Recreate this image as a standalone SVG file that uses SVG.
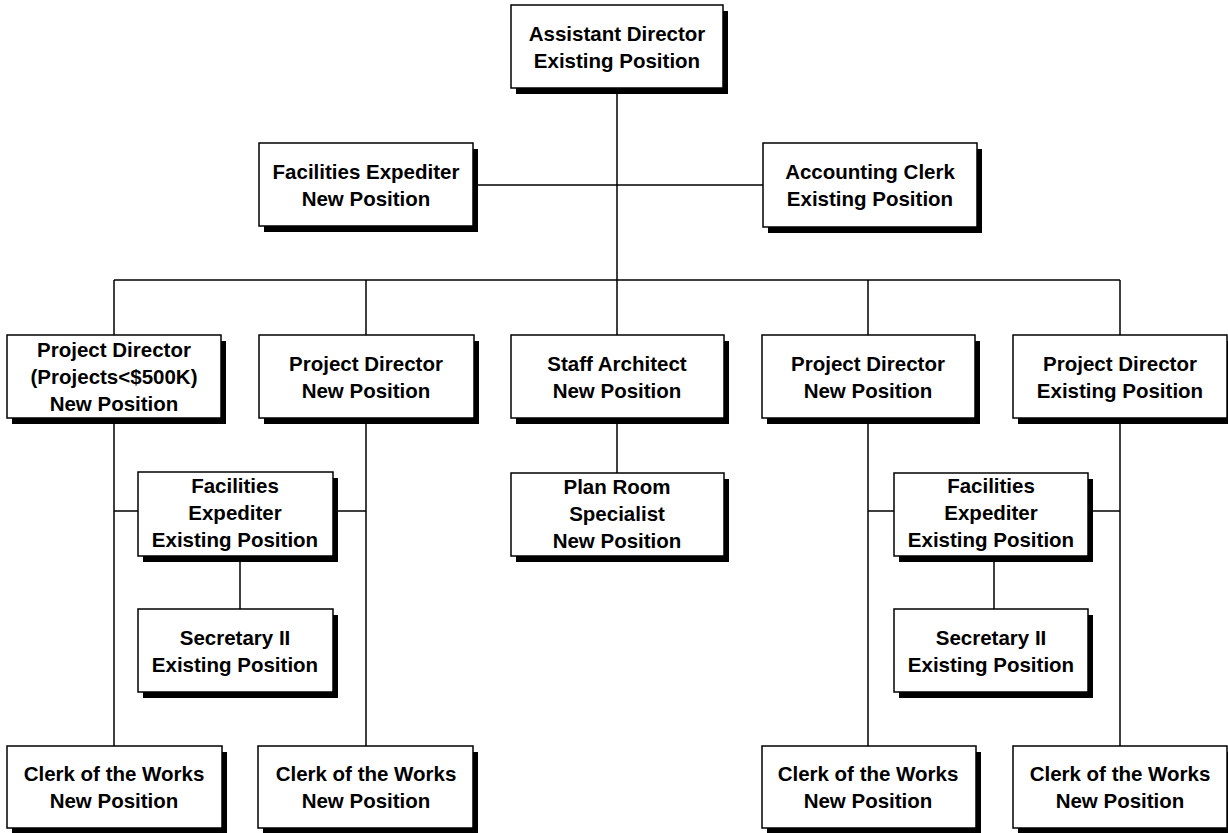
<svg xmlns="http://www.w3.org/2000/svg" width="1228" height="833" viewBox="0 0 1228 833">
<style>
.bx{fill:#fff;stroke:#000;stroke-width:1.5}
.sh{fill:#000}
.t{font-family:"Liberation Sans",Arial,sans-serif;font-weight:bold;font-size:20.5px;fill:#000;text-anchor:middle}
.c{stroke:#000;stroke-width:1.5;fill:none}
</style>
<rect width="1228" height="833" fill="#fff"/>
<g id="connectors">
<path class="c" d="M617,88V335M473,185H763M114,280H1120M114,280V335M366,280V335M868,280V335M1120,280V335"/>
<path class="c" d="M114,418V746M366,418V746M868,418V746M1120,418V746M617,418V473"/>
<path class="c" d="M114,511H138M333,511H366M868,511H894M1088,511H1120M240,556V609M994,556V609"/>
</g>
<g id="n-asst-dir"><rect class="sh" x="516" y="11" width="212" height="83"/><rect class="bx" x="511" y="5" width="212" height="83"/><text class="t" x="617" y="41">Assistant Director</text><text class="t" x="617" y="68">Existing Position</text></g>
<g id="n-fac-exp-new"><rect class="sh" x="264" y="149" width="214" height="83"/><rect class="bx" x="259" y="143" width="214" height="83"/><text class="t" x="366" y="179">Facilities Expediter</text><text class="t" x="366" y="206">New Position</text></g>
<g id="n-acct-clerk"><rect class="sh" x="768" y="149" width="214" height="84"/><rect class="bx" x="763" y="143" width="214" height="84"/><text class="t" x="870" y="179">Accounting Clerk</text><text class="t" x="870" y="206">Existing Position</text></g>
<g id="n-pd1"><rect class="sh" x="12" y="341" width="214" height="83"/><rect class="bx" x="7" y="335" width="214" height="83"/><text class="t" x="114" y="357">Project Director</text><text class="t" x="114" y="384">(Projects&lt;$500K)</text><text class="t" x="114" y="411">New Position</text></g>
<g id="n-pd2"><rect class="sh" x="264" y="341" width="215" height="83"/><rect class="bx" x="259" y="335" width="215" height="83"/><text class="t" x="366" y="371">Project Director</text><text class="t" x="366" y="398">New Position</text></g>
<g id="n-staff-arch"><rect class="sh" x="516" y="341" width="213" height="83"/><rect class="bx" x="511" y="335" width="213" height="83"/><text class="t" x="617" y="371">Staff Architect</text><text class="t" x="617" y="398">New Position</text></g>
<g id="n-pd3"><rect class="sh" x="767" y="341" width="213" height="83"/><rect class="bx" x="762" y="335" width="213" height="83"/><text class="t" x="868" y="371">Project Director</text><text class="t" x="868" y="398">New Position</text></g>
<g id="n-pd4"><rect class="sh" x="1018" y="341" width="214" height="83"/><rect class="bx" x="1013" y="335" width="214" height="83"/><text class="t" x="1120" y="371">Project Director</text><text class="t" x="1120" y="398">Existing Position</text></g>
<g id="n-plan-room"><rect class="sh" x="516" y="479" width="213" height="83"/><rect class="bx" x="511" y="473" width="213" height="83"/><text class="t" x="617" y="494">Plan Room</text><text class="t" x="617" y="521">Specialist</text><text class="t" x="617" y="548">New Position</text></g>
<g id="n-fac-exp-l"><rect class="sh" x="143" y="478" width="195" height="84"/><rect class="bx" x="138" y="472" width="195" height="84"/><text class="t" x="235" y="493">Facilities</text><text class="t" x="235" y="520">Expediter</text><text class="t" x="235" y="547">Existing Position</text></g>
<g id="n-fac-exp-r"><rect class="sh" x="899" y="479" width="194" height="83"/><rect class="bx" x="894" y="473" width="194" height="83"/><text class="t" x="991" y="493">Facilities</text><text class="t" x="991" y="520">Expediter</text><text class="t" x="991" y="547">Existing Position</text></g>
<g id="n-sec-l"><rect class="sh" x="143" y="615" width="195" height="83"/><rect class="bx" x="138" y="609" width="195" height="83"/><text class="t" x="235" y="645">Secretary II</text><text class="t" x="235" y="672">Existing Position</text></g>
<g id="n-sec-r"><rect class="sh" x="899" y="615" width="194" height="83"/><rect class="bx" x="894" y="609" width="194" height="83"/><text class="t" x="991" y="645">Secretary II</text><text class="t" x="991" y="672">Existing Position</text></g>
<g id="n-cow1"><rect class="sh" x="12" y="752" width="215" height="82"/><rect class="bx" x="7" y="746" width="215" height="82"/><text class="t" x="114" y="781">Clerk of the Works</text><text class="t" x="114" y="808">New Position</text></g>
<g id="n-cow2"><rect class="sh" x="263" y="752" width="215" height="82"/><rect class="bx" x="258" y="746" width="215" height="82"/><text class="t" x="366" y="781">Clerk of the Works</text><text class="t" x="366" y="808">New Position</text></g>
<g id="n-cow3"><rect class="sh" x="767" y="752" width="214" height="82"/><rect class="bx" x="762" y="746" width="214" height="82"/><text class="t" x="868" y="781">Clerk of the Works</text><text class="t" x="868" y="808">New Position</text></g>
<g id="n-cow4"><rect class="sh" x="1018" y="752" width="214" height="82"/><rect class="bx" x="1013" y="746" width="214" height="82"/><text class="t" x="1120" y="781">Clerk of the Works</text><text class="t" x="1120" y="808">New Position</text></g>
</svg>
